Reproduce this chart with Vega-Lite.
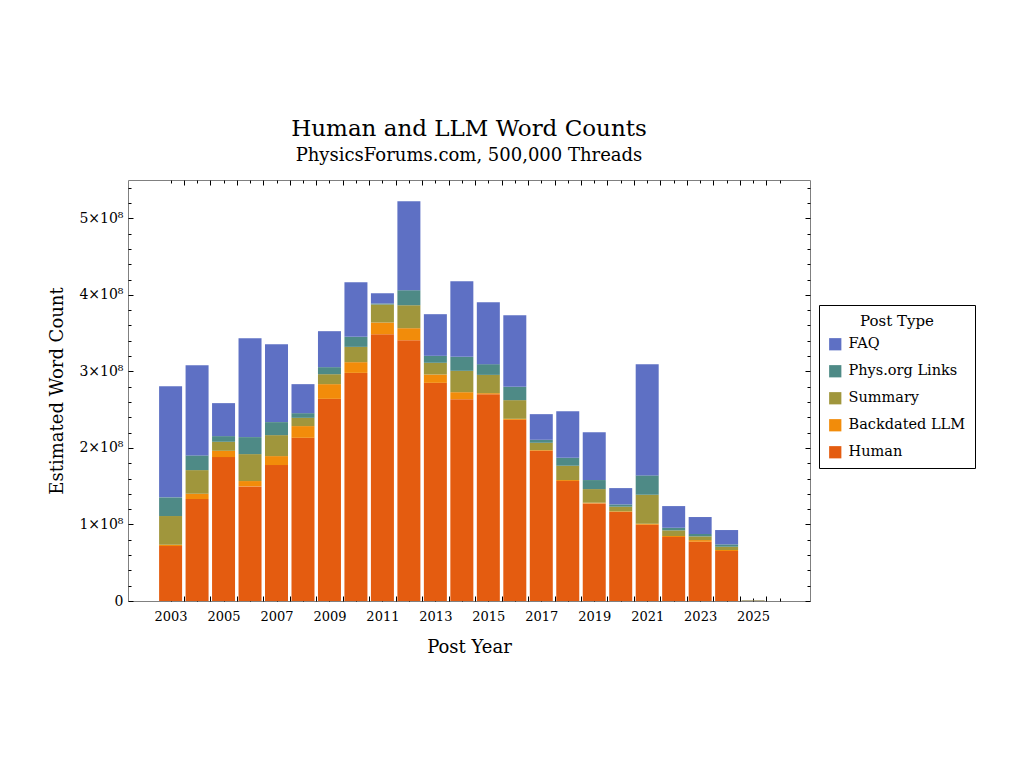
{
  "$schema": "https://vega.github.io/schema/vega-lite/v6.json",
  "width": 682,
  "height": 421,
  "autosize": {"type": "none"},
  "padding": {"left": 128, "top": 180, "right": 214, "bottom": 167},
  "background": "white",
  "title": {
    "text": "Human and LLM Word Counts",
    "subtitle": "PhysicsForums.com, 500,000 Threads",
    "fontSize": 23,
    "subtitleFontSize": 18,
    "fontWeight": "normal",
    "color": "black",
    "subtitleColor": "black",
    "anchor": "middle",
    "offset": 15,
    "subtitlePadding": 6
  },
  "data": {
    "values": [
      {"year": 2003, "type": "Human", "words": 71800000},
      {"year": 2003, "type": "Backdated LLM", "words": 1700000},
      {"year": 2003, "type": "Summary", "words": 37500000},
      {"year": 2003, "type": "Phys.org Links", "words": 24400000},
      {"year": 2003, "type": "FAQ", "words": 145300000},
      {"year": 2004, "type": "Human", "words": 133200000},
      {"year": 2004, "type": "Backdated LLM", "words": 6900000},
      {"year": 2004, "type": "Summary", "words": 30900000},
      {"year": 2004, "type": "Phys.org Links", "words": 19200000},
      {"year": 2004, "type": "FAQ", "words": 117900000},
      {"year": 2005, "type": "Human", "words": 188000000},
      {"year": 2005, "type": "Backdated LLM", "words": 8200000},
      {"year": 2005, "type": "Summary", "words": 11800000},
      {"year": 2005, "type": "Phys.org Links", "words": 7400000},
      {"year": 2005, "type": "FAQ", "words": 43100000},
      {"year": 2006, "type": "Human", "words": 149700000},
      {"year": 2006, "type": "Backdated LLM", "words": 7000000},
      {"year": 2006, "type": "Summary", "words": 35200000},
      {"year": 2006, "type": "Phys.org Links", "words": 22200000},
      {"year": 2006, "type": "FAQ", "words": 129200000},
      {"year": 2007, "type": "Human", "words": 177600000},
      {"year": 2007, "type": "Backdated LLM", "words": 11700000},
      {"year": 2007, "type": "Summary", "words": 27400000},
      {"year": 2007, "type": "Phys.org Links", "words": 17000000},
      {"year": 2007, "type": "FAQ", "words": 101800000},
      {"year": 2008, "type": "Human", "words": 213200000},
      {"year": 2008, "type": "Backdated LLM", "words": 15300000},
      {"year": 2008, "type": "Summary", "words": 10800000},
      {"year": 2008, "type": "Phys.org Links", "words": 6100000},
      {"year": 2008, "type": "FAQ", "words": 37900000},
      {"year": 2009, "type": "Human", "words": 264100000},
      {"year": 2009, "type": "Backdated LLM", "words": 19200000},
      {"year": 2009, "type": "Summary", "words": 13000000},
      {"year": 2009, "type": "Phys.org Links", "words": 9200000},
      {"year": 2009, "type": "FAQ", "words": 47000000},
      {"year": 2010, "type": "Human", "words": 298000000},
      {"year": 2010, "type": "Backdated LLM", "words": 14000000},
      {"year": 2010, "type": "Summary", "words": 20000000},
      {"year": 2010, "type": "Phys.org Links", "words": 13100000},
      {"year": 2010, "type": "FAQ", "words": 71300000},
      {"year": 2011, "type": "Human", "words": 348600000},
      {"year": 2011, "type": "Backdated LLM", "words": 15200000},
      {"year": 2011, "type": "Summary", "words": 23500000},
      {"year": 2011, "type": "Phys.org Links", "words": 1300000},
      {"year": 2011, "type": "FAQ", "words": 13500000},
      {"year": 2012, "type": "Human", "words": 340700000},
      {"year": 2012, "type": "Backdated LLM", "words": 15700000},
      {"year": 2012, "type": "Summary", "words": 30000000},
      {"year": 2012, "type": "Phys.org Links", "words": 19600000},
      {"year": 2012, "type": "FAQ", "words": 116200000},
      {"year": 2013, "type": "Human", "words": 285000000},
      {"year": 2013, "type": "Backdated LLM", "words": 10900000},
      {"year": 2013, "type": "Summary", "words": 15300000},
      {"year": 2013, "type": "Phys.org Links", "words": 9100000},
      {"year": 2013, "type": "FAQ", "words": 54400000},
      {"year": 2014, "type": "Human", "words": 263700000},
      {"year": 2014, "type": "Backdated LLM", "words": 9100000},
      {"year": 2014, "type": "Summary", "words": 27900000},
      {"year": 2014, "type": "Phys.org Links", "words": 18300000},
      {"year": 2014, "type": "FAQ", "words": 98800000},
      {"year": 2015, "type": "Human", "words": 270200000},
      {"year": 2015, "type": "Backdated LLM", "words": 1300000},
      {"year": 2015, "type": "Summary", "words": 23900000},
      {"year": 2015, "type": "Phys.org Links", "words": 14000000},
      {"year": 2015, "type": "FAQ", "words": 80900000},
      {"year": 2016, "type": "Human", "words": 236700000},
      {"year": 2016, "type": "Backdated LLM", "words": 1300000},
      {"year": 2016, "type": "Summary", "words": 24400000},
      {"year": 2016, "type": "Phys.org Links", "words": 17400000},
      {"year": 2016, "type": "FAQ", "words": 93600000},
      {"year": 2017, "type": "Human", "words": 196200000},
      {"year": 2017, "type": "Backdated LLM", "words": 900000},
      {"year": 2017, "type": "Summary", "words": 9600000},
      {"year": 2017, "type": "Phys.org Links", "words": 3900000},
      {"year": 2017, "type": "FAQ", "words": 33500000},
      {"year": 2018, "type": "Human", "words": 156700000},
      {"year": 2018, "type": "Backdated LLM", "words": 1300000},
      {"year": 2018, "type": "Summary", "words": 18700000},
      {"year": 2018, "type": "Phys.org Links", "words": 10400000},
      {"year": 2018, "type": "FAQ", "words": 60900000},
      {"year": 2019, "type": "Human", "words": 127500000},
      {"year": 2019, "type": "Backdated LLM", "words": 900000},
      {"year": 2019, "type": "Summary", "words": 17800000},
      {"year": 2019, "type": "Phys.org Links", "words": 11800000},
      {"year": 2019, "type": "FAQ", "words": 62600000},
      {"year": 2020, "type": "Human", "words": 116200000},
      {"year": 2020, "type": "Backdated LLM", "words": 900000},
      {"year": 2020, "type": "Summary", "words": 6100000},
      {"year": 2020, "type": "Phys.org Links", "words": 3000000},
      {"year": 2020, "type": "FAQ", "words": 21300000},
      {"year": 2021, "type": "Human", "words": 99600000},
      {"year": 2021, "type": "Backdated LLM", "words": 1300000},
      {"year": 2021, "type": "Summary", "words": 37900000},
      {"year": 2021, "type": "Phys.org Links", "words": 25300000},
      {"year": 2021, "type": "FAQ", "words": 145300000},
      {"year": 2022, "type": "Human", "words": 83600000},
      {"year": 2022, "type": "Backdated LLM", "words": 1300000},
      {"year": 2022, "type": "Summary", "words": 7400000},
      {"year": 2022, "type": "Phys.org Links", "words": 3400000},
      {"year": 2022, "type": "FAQ", "words": 28300000},
      {"year": 2023, "type": "Human", "words": 77400000},
      {"year": 2023, "type": "Backdated LLM", "words": 2200000},
      {"year": 2023, "type": "Summary", "words": 4800000},
      {"year": 2023, "type": "Phys.org Links", "words": 3100000},
      {"year": 2023, "type": "FAQ", "words": 22200000},
      {"year": 2024, "type": "Human", "words": 65300000},
      {"year": 2024, "type": "Backdated LLM", "words": 1300000},
      {"year": 2024, "type": "Summary", "words": 4300000},
      {"year": 2024, "type": "Phys.org Links", "words": 3100000},
      {"year": 2024, "type": "FAQ", "words": 18700000},
      {"year": 2025, "type": "Human", "words": 300000},
      {"year": 2025, "type": "Backdated LLM", "words": 0},
      {"year": 2025, "type": "Summary", "words": 600000},
      {"year": 2025, "type": "Phys.org Links", "words": 200000},
      {"year": 2025, "type": "FAQ", "words": 100000}
    ]
  },
  "layer": [
    {
      "transform": [
        {"calculate": "indexof(['Human', 'Backdated LLM', 'Summary', 'Phys.org Links', 'FAQ'], datum.type)", "as": "stackRank"}
      ],
      "mark": {"type": "bar", "width": 23},
      "encoding": {
        "x": {
          "field": "year",
          "type": "quantitative",
          "scale": {"domain": [2001.58, 2026.96], "nice": false, "zero": false},
          "axis": {
            "orient": "bottom",
            "values": [2003, 2003.5, 2004, 2004.5, 2005, 2005.5, 2006, 2006.5, 2007, 2007.5, 2008, 2008.5, 2009, 2009.5, 2010, 2010.5, 2011, 2011.5, 2012, 2012.5, 2013, 2013.5, 2014, 2014.5, 2015, 2015.5, 2016, 2016.5, 2017, 2017.5, 2018, 2018.5, 2019, 2019.5, 2020, 2020.5, 2021, 2021.5, 2022, 2022.5, 2023, 2023.5, 2024, 2024.5, 2025, 2025.5, 2026],
            "labelExpr": "datum.value % 2 == 1 ? format(datum.value, 'd') : ''",
            "labelOverlap": false,
            "labelFlush": false,
            "tickSize": {"condition": {"test": "datum.value % 1 != 0", "value": -5}, "value": -3},
            "tickColor": "black",
            "domain": false,
            "grid": false,
            "labelFontSize": 13,
            "labelColor": "black",
            "labelPadding": 12,
            "title": "Post Year",
            "titleFontSize": 18,
            "titleFontWeight": "normal",
            "titleColor": "black",
            "titlePadding": 15
          }
        },
        "y": {
          "field": "words",
          "type": "quantitative",
          "stack": "zero",
          "scale": {"domain": [0, 550000000], "nice": false},
          "axis": {
            "orient": "left",
            "values": [0, 20000000, 40000000, 60000000, 80000000, 100000000, 120000000, 140000000, 160000000, 180000000, 200000000, 220000000, 240000000, 260000000, 280000000, 300000000, 320000000, 340000000, 360000000, 380000000, 400000000, 420000000, 440000000, 460000000, 480000000, 500000000, 520000000, 540000000],
            "labelExpr": "datum.value % 100000000 == 0 ? (datum.value == 0 ? '0' : format(datum.value / 100000000, 'd') + '×10⁸') : ''",
            "labelOverlap": false,
            "labelFlush": false,
            "tickSize": {"condition": {"test": "datum.value % 100000000 == 0", "value": -5}, "value": -3},
            "tickColor": "black",
            "domain": false,
            "grid": false,
            "labelFontSize": 14,
            "labelColor": "black",
            "labelPadding": 10,
            "title": "Estimated Word Count",
            "titleFontSize": 18,
            "titleFontWeight": "normal",
            "titleColor": "black",
            "titlePadding": 12
          }
        },
        "color": {
          "field": "type",
          "type": "nominal",
          "scale": {
            "domain": ["FAQ", "Phys.org Links", "Summary", "Backdated LLM", "Human"],
            "range": ["#5E70C4", "#4E8A86", "#A0963C", "#F28C0A", "#E45C10"]
          },
          "legend": {
            "title": "Post Type",
            "orient": "none",
            "legendX": 691,
            "legendY": 125,
            "strokeColor": "black",
            "fillColor": "white",
            "padding": 9,
            "titleAnchor": "middle",
            "titleFontSize": 15,
            "titleFontWeight": "normal",
            "titleColor": "black",
            "titlePadding": 8,
            "labelFontSize": 14.5,
            "labelColor": "black",
            "symbolType": "square",
            "symbolSize": 150,
            "symbolStrokeWidth": 0,
            "rowPadding": 12,
            "labelOffset": 6
          }
        },
        "order": {"field": "stackRank", "type": "quantitative", "sort": "ascending"}
      }
    },
    {
      "mark": {"type": "bar", "width": 23, "opacity": 0},
      "encoding": {
        "x": {
          "field": "year",
          "type": "quantitative",
          "axis": {
            "orient": "top",
            "values": [2003, 2003.5, 2004, 2004.5, 2005, 2005.5, 2006, 2006.5, 2007, 2007.5, 2008, 2008.5, 2009, 2009.5, 2010, 2010.5, 2011, 2011.5, 2012, 2012.5, 2013, 2013.5, 2014, 2014.5, 2015, 2015.5, 2016, 2016.5, 2017, 2017.5, 2018, 2018.5, 2019, 2019.5, 2020, 2020.5, 2021, 2021.5, 2022, 2022.5, 2023, 2023.5, 2024, 2024.5, 2025, 2025.5, 2026],
            "labels": false,
            "tickSize": {"condition": {"test": "datum.value % 1 != 0", "value": -5}, "value": -3},
            "tickColor": "black",
            "domain": false,
            "grid": false,
            "title": null
          }
        },
        "y": {
          "field": "words",
          "type": "quantitative",
          "stack": null,
          "axis": {
            "orient": "right",
            "values": [0, 20000000, 40000000, 60000000, 80000000, 100000000, 120000000, 140000000, 160000000, 180000000, 200000000, 220000000, 240000000, 260000000, 280000000, 300000000, 320000000, 340000000, 360000000, 380000000, 400000000, 420000000, 440000000, 460000000, 480000000, 500000000, 520000000, 540000000],
            "labels": false,
            "tickSize": {"condition": {"test": "datum.value % 100000000 == 0", "value": -5}, "value": -3},
            "tickColor": "black",
            "domain": false,
            "grid": false,
            "title": null
          }
        }
      }
    }
  ],
  "resolve": {"axis": {"x": "independent", "y": "independent"}},
  "config": {
    "font": "DejaVu Serif",
    "view": {"stroke": "#808080", "strokeWidth": 1}
  }
}
